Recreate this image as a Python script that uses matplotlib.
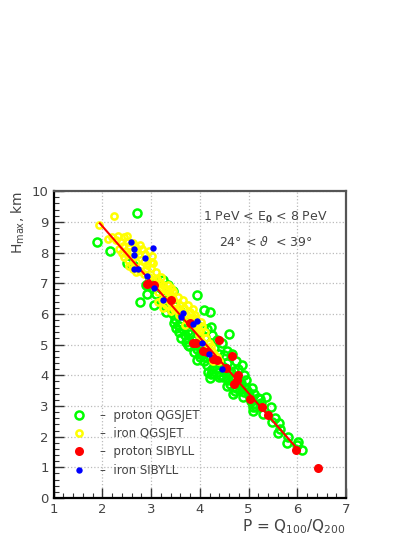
import matplotlib
matplotlib.use("Agg")
import matplotlib.pyplot as plt
from matplotlib.ticker import MultipleLocator
from matplotlib.lines import Line2D

# proton QGSJET (open green circles)
green_x = [1.89, 2.16, 2.71, 2.50, 2.91, 2.78, 3.07, 3.25, 3.95, 4.08, 4.20, 4.23, 4.59, 4.86,
           5.24, 5.45, 5.48, 5.65, 5.61, 5.79, 6.01, 6.10, 6.00, 4.25, 5.10, 5.10,
           2.95, 3.05, 3.10, 3.20, 3.22, 3.30, 3.35, 3.40, 3.45, 3.30, 3.50, 3.55, 3.60, 3.52,
           3.58, 3.65, 3.70, 3.62, 3.75, 3.80, 3.72, 3.85, 3.78, 3.90, 3.95, 3.88, 4.00, 4.05,
           4.10, 4.12, 4.08, 4.20, 4.15, 4.25, 4.30, 4.35, 4.22, 4.40, 4.45, 4.50, 4.55, 4.48,
           4.60, 4.58, 4.65, 4.70, 4.62, 4.75, 4.80, 4.72, 4.85, 4.90, 4.95, 4.88, 5.00, 5.05,
           5.10, 5.12, 5.20, 5.15, 4.30, 4.40, 4.50, 4.55, 4.45, 4.35, 4.25, 4.15, 3.95, 4.10,
           3.85, 3.68, 3.50, 3.40, 3.15, 3.35, 3.25, 3.45, 2.62, 2.90, 3.60, 3.75, 4.75, 4.65,
           4.90, 4.40, 4.00, 3.75, 3.95, 4.20, 4.55, 5.25, 5.55, 5.62, 5.80, 5.08, 4.95, 4.78,
           5.35, 4.68, 4.82, 5.30, 4.17, 4.00, 4.42, 4.52, 4.68, 4.85, 4.98, 3.48, 3.58, 3.92]
green_y = [8.33, 8.05, 9.29, 7.67, 6.64, 6.38, 6.29, 6.55, 6.63, 6.12, 6.05, 5.58, 5.36, 4.33,
           3.22, 2.98, 2.49, 2.25, 2.11, 1.78, 1.83, 1.56, 1.72, 4.06, 2.97, 2.85,
           7.05, 6.85, 6.65, 6.85, 6.35, 6.25, 6.45, 6.15, 6.00, 6.05, 5.85, 5.95, 5.75, 5.55,
           5.40, 5.50, 5.30, 5.20, 5.45, 5.35, 5.10, 5.15, 4.95, 5.00, 4.85, 4.75, 4.95, 4.75,
           4.90, 4.60, 4.45, 4.55, 4.35, 4.20, 4.40, 4.25, 4.05, 4.10, 4.30, 4.15, 4.40, 3.95,
           4.10, 3.85, 3.95, 4.15, 3.70, 3.60, 3.80, 3.50, 3.65, 3.45, 3.55, 3.30, 3.35, 3.15,
           3.05, 3.40, 3.25, 2.95, 4.90, 4.70, 4.65, 4.80, 5.05, 5.15, 5.30, 5.50, 5.65, 5.25,
           5.80, 5.95, 6.25, 6.55, 7.05, 6.95, 7.10, 6.75, 7.60, 6.95, 6.10, 5.70, 4.45, 4.70,
           4.00, 3.95, 4.60, 5.00, 4.50, 3.90, 3.65, 3.10, 2.60, 2.45, 2.00, 3.60, 3.85, 4.20,
           3.30, 3.40, 3.55, 2.75, 4.10, 4.70, 4.00, 4.25, 3.85, 3.75, 3.45, 5.70, 5.60, 5.20]

# iron QGSJET (small open yellow circles)
yellow_x = [1.93, 2.23, 2.12, 2.20, 2.28, 2.33, 2.38, 2.45, 2.50, 2.52, 2.42, 2.48, 2.55, 2.58,
            2.62, 2.68, 2.72, 2.78, 2.82, 2.88, 2.95, 3.02, 3.05, 3.00, 2.92, 2.80, 2.70, 2.60,
            2.52, 2.45, 2.40, 2.35, 2.62, 2.70, 2.78, 2.85, 2.95, 3.05, 3.12, 3.18, 3.10, 3.20,
            3.25, 3.30, 3.15, 3.28, 3.35, 3.40, 3.45, 3.38, 3.30, 3.22, 3.50, 3.55, 3.48, 3.40,
            3.60, 3.62, 3.68, 3.72, 3.58, 3.75, 3.80, 3.85, 3.90, 3.78, 3.70, 3.88, 3.95, 4.00,
            4.05, 4.10, 3.98, 4.12, 4.05, 4.18, 4.22, 4.15, 4.25, 4.30, 4.35, 4.28, 4.40, 3.40,
            3.10, 3.00, 2.55, 2.65, 2.75, 2.85, 3.35, 3.45, 3.55, 3.65, 3.75, 3.85, 3.92, 4.02,
            3.20, 3.25, 3.15, 2.90, 2.50]
yellow_y = [8.90, 9.20, 8.45, 8.50, 8.42, 8.55, 8.35, 8.50, 8.55, 8.35, 8.20, 8.05, 8.20, 8.00,
            8.30, 8.20, 8.05, 8.25, 8.10, 7.95, 8.05, 7.90, 7.65, 7.50, 7.60, 7.55, 7.70, 7.60,
            7.75, 7.85, 8.00, 8.10, 7.45, 7.35, 7.40, 7.30, 7.20, 7.10, 7.15, 7.00, 6.95, 6.85,
            6.95, 6.80, 6.70, 6.60, 6.70, 6.60, 6.50, 6.40, 6.30, 6.45, 6.35, 6.20, 6.15, 6.10,
            6.30, 6.10, 6.20, 6.00, 5.95, 5.85, 6.05, 5.90, 5.95, 5.75, 5.65, 5.60, 5.55, 5.45,
            5.60, 5.40, 5.30, 5.20, 5.10, 5.05, 4.95, 4.85, 4.80, 4.70, 4.60, 4.45, 4.45, 6.85,
            7.35, 7.70, 7.55, 7.85, 7.95, 7.70, 6.95, 6.75, 6.55, 6.45, 6.30, 6.15, 5.85, 5.75,
            7.20, 6.20, 6.40, 7.45, 7.95]

# proton SIBYLL (filled red)
red_x = [2.91, 3.06, 3.40, 3.80, 3.87, 3.92, 4.07, 4.15, 4.40, 4.28, 4.35, 4.65, 4.53, 4.79,
         4.77, 4.70, 5.03, 5.28, 5.40, 5.98, 6.43]
red_y = [6.98, 6.95, 6.44, 5.72, 5.05, 5.05, 4.79, 4.77, 5.15, 4.52, 4.50, 4.62, 4.24, 4.00,
         3.85, 3.72, 3.24, 2.96, 2.70, 1.58, 0.98]

# iron SIBYLL (filled blue)
blue_x = [2.59, 2.66, 3.05, 2.64, 2.87, 2.66, 2.73, 2.91, 3.07, 3.24, 3.62, 3.65, 3.85, 3.95,
          4.04, 4.18, 4.45]
blue_y = [8.34, 8.11, 8.14, 7.92, 7.82, 7.45, 7.45, 7.23, 6.86, 6.45, 5.89, 6.03, 5.67, 5.78,
          5.06, 4.70, 4.21]

# fit line
fit_x = [1.95, 6.0]
fit_y = [8.95, 1.6]

fig = plt.figure(figsize=(4.15, 5.37), dpi=100)
ax = fig.add_axes([0.129, 0.0726, 0.705, 0.5714])

ax.plot(green_x, green_y, 'o', ms=5.8, mfc='none', mec='#00ff00', mew=1.8, zorder=3)
ax.plot(yellow_x, yellow_y, 'o', ms=4.5, mfc='none', mec='#ffff00', mew=1.8, zorder=4)
ax.plot(fit_x, fit_y, '-', color='#ff0000', lw=1.5, zorder=5)
ax.plot(red_x, red_y, 'o', ms=6.5, color='#ff0000', mec='none', zorder=6)
ax.plot(blue_x, blue_y, 'o', ms=4.6, color='#0000ff', mec='none', zorder=7)

ax.set_xlim(1, 7)
ax.set_ylim(0, 10)
ax.xaxis.set_major_locator(MultipleLocator(1))
ax.xaxis.set_minor_locator(MultipleLocator(0.2))
ax.yaxis.set_major_locator(MultipleLocator(1))
ax.yaxis.set_minor_locator(MultipleLocator(0.2))
ax.tick_params(which='both', direction='in', top=False, right=False, colors='#333333',
               labelsize=9.5, labelcolor='#444444')
ax.tick_params(which='major', length=7, width=1)
ax.tick_params(which='minor', length=3.5, width=0.8)
ax.grid(True, which='major', linestyle=':', color='#bbbbbb', lw=0.9)

for s in ['left', 'bottom']:
    ax.spines[s].set_linewidth(1.6)
    ax.spines[s].set_color('black')
for s in ['top', 'right']:
    ax.spines[s].set_linewidth(1.6)
    ax.spines[s].set_color('#555555')

ax.text(5.34, 9.15, r'1 PeV < E$_{\mathbf{0}}$ < 8 PeV', ha='center', va='center',
        fontsize=9, color='#444444')
ax.text(5.36, 8.34, r'24$\degree$ < $\vartheta$  < 39$\degree$', ha='center', va='center',
        fontsize=9, color='#444444')

fig.text(0.045, 0.645, r'H$_{\mathrm{max}}$, km', rotation=90, ha='center', va='top',
         fontsize=10, color='#444444')
fig.text(0.834, 0.002, r'P = Q$_{100}$/Q$_{200}$', ha='right', va='bottom',
         fontsize=11, color='#444444')

handles = [
    Line2D([], [], ls='none', marker='o', ms=5.8, mfc='none', mec='#00ff00', mew=1.8),
    Line2D([], [], ls='none', marker='o', ms=4.5, mfc='none', mec='#ffff00', mew=1.8),
    Line2D([], [], ls='none', marker='o', ms=6.5, color='#ff0000', mec='none'),
    Line2D([], [], ls='none', marker='o', ms=4.6, color='#0000ff', mec='none'),
]
labels = ['\u2013  proton QGSJET', '\u2013  iron QGSJET', '\u2013  proton SIBYLL', '\u2013  iron SIBYLL']
leg = ax.legend(handles, labels, loc='lower left', bbox_to_anchor=(0.03, 0.035), frameon=False,
                fontsize=8.5, handlelength=1.0, handletextpad=1.3, labelspacing=0.45)
for t in leg.get_texts():
    t.set_color('#444444')

fig.savefig('out.png', dpi=100)
